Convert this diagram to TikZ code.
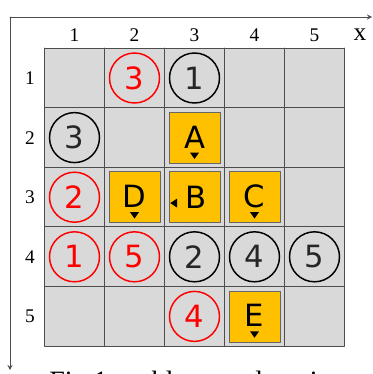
\documentclass[tikz,border=0pt]{standalone}
\usepackage{fontspec}
\setmainfont{Liberation Serif}
\newfontfamily\gothic{DejaVu Sans}
\definecolor{cellgray}{HTML}{D9D9D9}
\definecolor{boxorange}{HTML}{FFC000}
\definecolor{gridline}{HTML}{4D4D4D}
\begin{document}
\begin{tikzpicture}[x=0.75pt, y=-0.75pt, line cap=round, line join=round, >=stealth,
	redball/.style={circle, draw=red, line width=1.1pt, minimum size=37.5pt, inner sep=0pt, text=red, font=\gothic\fontsize{23}{23}\selectfont},
	blackball/.style={circle, draw=black, line width=1.1pt, minimum size=37.5pt, inner sep=0pt, text=black!85, font=\gothic\fontsize{23}{23}\selectfont},
	carbox/.style={rectangle, fill=boxorange, draw=gray!80!black, line width=0.6pt, minimum size=38.25pt, inner sep=0pt},
	carname/.style={inner sep=0pt, font=\gothic\fontsize{23}{23}\selectfont}]
	\useasboundingbox (0,0) rectangle (373,374);
	% axes
	\draw[->, gridline, line width=0.7pt] (10,17)--(372,17);
	\draw[->, gridline, line width=0.7pt] (10,17)--(10,370);
	\node[font=\fontsize{19}{19}\selectfont] (xlab) at (360,35) {x};
	% board
	\fill[cellgray] (44.5,48) rectangle (344.5,346);
	\foreach \i in {0,...,5} {
		\draw[gridline, line width=0.6pt] ({44.5+60*\i},48)--({44.5+60*\i},346);
		\draw[gridline, line width=0.6pt] (44.5,{48+59.6*\i})--(344.5,{48+59.6*\i});
	}
	\foreach \c in {1,...,5} {
		\node[font=\fontsize{14.5}{14.5}\selectfont] (col\c) at ({14.5+60*\c},35) {\c};
		\node[font=\fontsize{14.5}{14.5}\selectfont] (row\c) at (30,{18.4+59.6*\c}) {\c};
	}
	% balls
	\node[redball] (r3) at (134.5,78) {3};
	\node[redball] (r2) at (74.5,197.2) {2};
	\node[redball] (r1) at (74.5,256.8) {1};
	\node[redball] (r5) at (134.5,256.8) {5};
	\node[redball] (r4) at (194.5,316.4) {4};
	\node[blackball] (b1) at (194.5,78) {1};
	\node[blackball] (b3) at (74.5,137.6) {3};
	\node[blackball] (b2) at (194.5,256.8) {2};
	\node[blackball] (b4) at (254.5,256.8) {4};
	\node[blackball] (b5) at (314.5,256.8) {5};
	% cars
	\foreach \n/\x/\y in {A/194.5/137.6, B/194.5/197.2, C/254.5/197.2, D/134.5/197.2, E/254.5/316.4} {
		\node[carbox] (car\n) at (\x,\y) {};
	}
	\foreach \n in {A,C,D,E} {
		\node[carname] at ([yshift=0.5pt]car\n.center) {\n};
		\fill ([xshift=-3.4pt, yshift=-11.2pt]car\n.center) -- ([xshift=3.4pt, yshift=-11.2pt]car\n.center) -- ([yshift=-16pt]car\n.center) -- cycle;
	}
	\node[carname] at ([xshift=1pt]carB.center) {B};
	\fill ([xshift=-13pt, yshift=-1pt]carB.center) -- ([xshift=-13pt, yshift=-7.8pt]carB.center) -- ([xshift=-18.2pt, yshift=-4.4pt]carB.center) -- cycle;
	% caption, cut off at the lower edge
	\begin{scope}
		\clip (0,0) rectangle (373,374);
		\node[anchor=north west, inner sep=0pt, font=\fontsize{21}{21}\selectfont] (caption) at (49,371) {Fig.1 problem explanation};
	\end{scope}
\end{tikzpicture}
\end{document}
